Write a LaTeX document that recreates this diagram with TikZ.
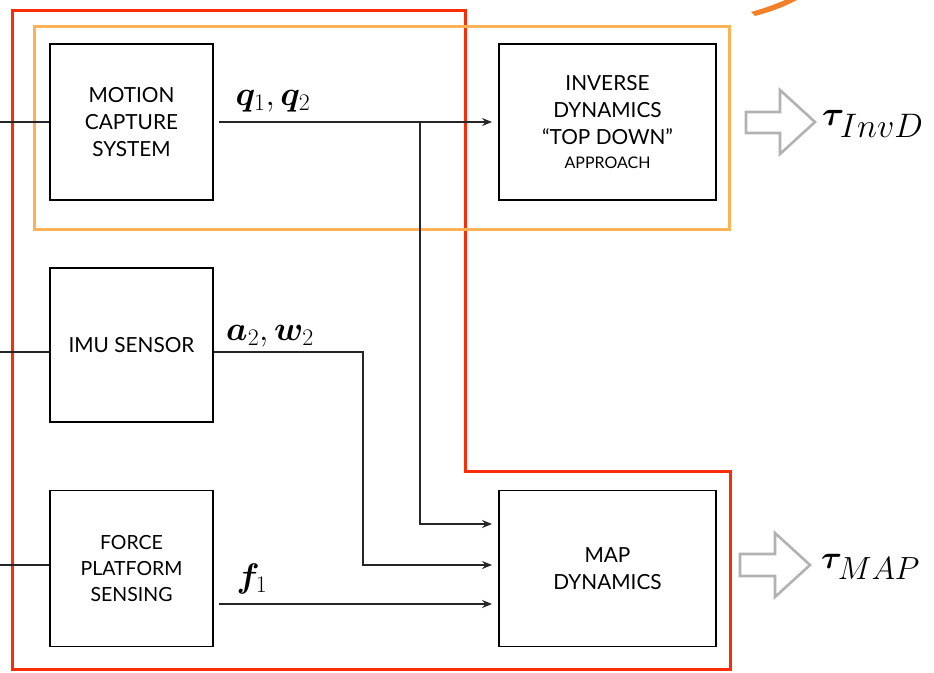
\RequirePackage{fix-cm}
\documentclass[tikz,border=0pt]{standalone}
\usepackage{amsmath,bm}
\usepackage{fontspec}
\setmainfont{Lato}
\usetikzlibrary{arrows.meta}
\definecolor{redline}{RGB}{250,45,10}
\definecolor{orangeline}{RGB}{255,178,85}
\definecolor{orangedark}{RGB}{242,128,40}
\definecolor{arrgray}{RGB}{178,178,178}
\begin{document}
\begin{tikzpicture}[x=1pt,y=-1pt,
  blk/.style={draw=black, line width=1.9pt, minimum width=163pt, minimum height=156pt,
    align=center, inner sep=0pt, font=\fontsize{20.8}{27}\selectfont},
  wide/.style={blk, minimum width=217pt},
  wire/.style={line width=1.1pt, draw=black!85},
  arr/.style={wire, -{Stealth[length=10pt,width=8pt]}},
  mlabel/.style={inner sep=0pt, font=\fontsize{34}{34}\selectfont},
  tlabel/.style={inner sep=0pt, anchor=west, font=\fontsize{34}{34}\selectfont},
  hollow/.style={draw=arrgray, line width=2.6pt, line join=miter},
  frame/.style={line width=3pt}
]
\useasboundingbox (0,0) rectangle (934,672);

% frames
\draw[frame, draw=redline] (12,10) -- (465,10) -- (465,471) -- (730,471) -- (730,669) -- (12,669) -- cycle;
\draw[frame, draw=orangeline] (34,26) rectangle (729,229);
\fill[orangedark] (751,12) .. controls (765,8) and (776,4) .. (785,0) -- (797,0) .. controls (784,7) and (770,12) .. (755,16) -- cycle;

% blocks
\node[blk] (mc) at (131.5,122) {MOTION\\CAPTURE\\SYSTEM};
\node[blk, minimum height=154pt] (imu) at (131.5,345) {IMU SENSOR};
\node[blk, font=\fontsize{19.5}{26}\selectfont] (fp) at (131.5,568.5) {FORCE\\PLATFORM\\SENSING};
\node[wide] (inv) at (607.5,122) {INVERSE\\DYNAMICS\\``TOP DOWN''\\[-3pt]{\fontsize{16}{17}\selectfont APPROACH}};
\node[wide] (map) at (607.5,568.5) {MAP\\DYNAMICS};

% inputs from the left
\coordinate (l1) at (0,122);
\coordinate (l2) at (0,352);
\coordinate (l3) at (0,565);
\draw[wire] (l1) -- (mc.west);
\draw[wire] (l2) -- (l2 -| imu.west);
\draw[wire] (l3) -- (l3 -| fp.west);

% signals
\coordinate (br) at (420,122);
\coordinate (c2) at (363,352);
\draw[arr, shorten <=5pt, shorten >=6pt] (mc.east) -- (inv.west);
\draw[arr, shorten >=6pt] (br) |- ([yshift=44.5pt]map.west);
\draw[arr, shorten >=6pt] (l2 -| imu.east) -- (c2) |- ([yshift=3.5pt]map.west);
\draw[arr, shorten <=5pt, shorten >=6pt] ([yshift=-35.5pt]map.west -| fp.east) -- ([yshift=-35.5pt]map.west);

% labels
\node[mlabel] (lq) at (273,101) {$\boldsymbol{q}_1, \boldsymbol{q}_2$};
\node[mlabel] (la) at (270,336) {$\boldsymbol{a}_2, \boldsymbol{w}_2$};
\node[mlabel] (lf) at (252,579) {$\boldsymbol{f}_1$};

% outputs
\draw[hollow] (746,112) -- (780,112) -- (780,90) -- (815,122) -- (780,154) -- (780,133) -- (746,133) -- cycle;
\draw[hollow] (740,554) -- (775,554) -- (775,533) -- (810,565) -- (775,597) -- (775,576) -- (740,576) -- cycle;
\node[tlabel] (tinv) at (822,124) {$\boldsymbol{\tau}_{\textstyle InvD}$};
\node[tlabel, font=\fontsize{32}{32}\selectfont] (tmap) at (821,567) {$\boldsymbol{\tau}_{\textstyle MAP}$};
\end{tikzpicture}
\end{document}
